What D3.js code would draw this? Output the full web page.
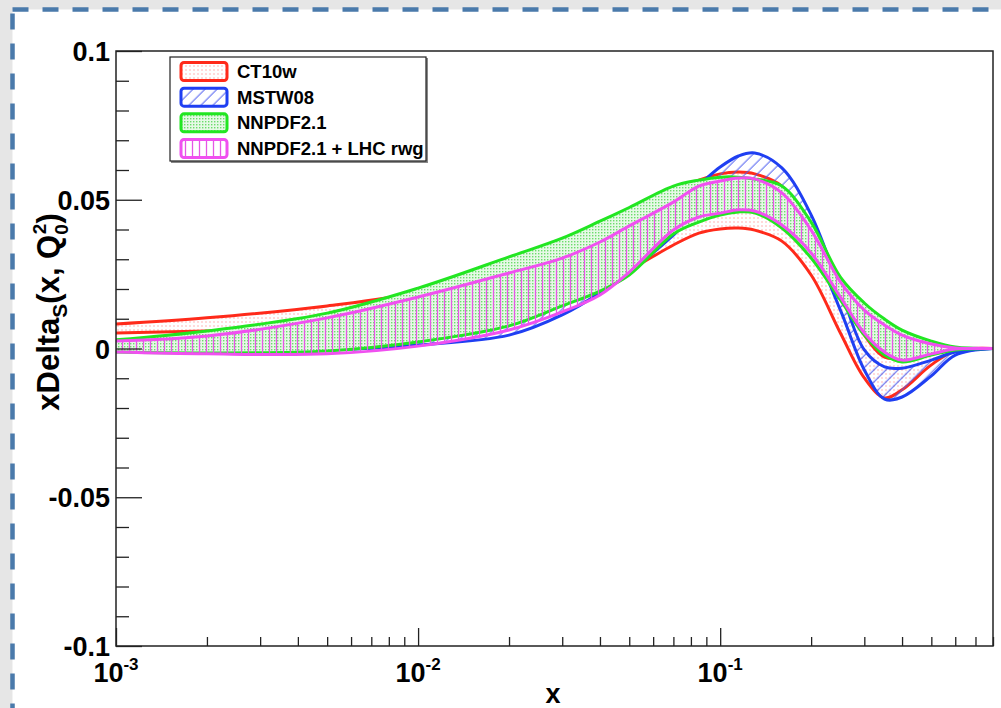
<!DOCTYPE html>
<html lang="en">
<head>
  <meta charset="UTF-8">
  <title>xDelta_S(x, Q0^2)</title>
  <script src="https://d3js.org/d3.v7.min.js"></script>
  <style>
    body {
      margin: 0;
      background-color: #e6e6e6;
    }
    svg { display: block; }
    text {
      font-family: "Liberation Sans", Arial, Helvetica, sans-serif;
      font-weight: bold;
      fill: #000;
    }
  </style>
</head>
<body>
  <div id="chart"></div>

  <script>
    const xGrid = [0.001, 0.002, 0.005, 0.01, 0.02, 0.03, 0.04, 0.05, 0.07, 0.085, 0.1,
                   0.115, 0.13, 0.16, 0.2, 0.25, 0.3, 0.35, 0.4, 0.5, 0.6, 0.8];

    const ct10Up = [0.0082, 0.0103, 0.0143, 0.0190, 0.0284, 0.0345, 0.0402, 0.0450, 0.0526, 0.0566, 0.0587,
                    0.0593, 0.0587, 0.0546, 0.0405, 0.0197, 0.0045, -0.0029, -0.0032, -0.0012, -0.0002, 0];
    const ct10Lo = [0.0052, 0.0059, 0.0069, 0.0082, 0.0119, 0.0163, 0.0220, 0.0264, 0.0348, 0.0388, 0.0402,
                    0.0405, 0.0398, 0.0361, 0.0247, 0.0052, -0.0099, -0.0166, -0.0139, -0.0055, -0.0008, 0];

    const mstwUp = [0.0008, 0.0012, 0.0018, 0.0039, 0.0089, 0.0197, 0.0304, 0.0365, 0.0482, 0.0550, 0.0610,
                    0.0647, 0.0657, 0.0607, 0.0449, 0.0197, -0.0005, -0.0062, -0.0066, -0.0039, -0.0012, 0];
    const mstwLo = [-0.0002, -0.0005, -0.0005, 0.0012, 0.0045, 0.0113, 0.0187, 0.0257, 0.0381, 0.0466, 0.0499,
                    0.0513, 0.0509, 0.0466, 0.0348, 0.0129, -0.0072, -0.0170, -0.0163, -0.0092, -0.0022, 0];

    const nnpdfUp = [0.0029, 0.0059, 0.0119, 0.0203, 0.0308, 0.0371, 0.0428, 0.0474, 0.0546, 0.0566, 0.0576,
                     0.0576, 0.0570, 0.0546, 0.0425, 0.0240, 0.0153, 0.0099, 0.0062, 0.0025, 0.0005, 0];
    const nnpdfLo = [-0.0012, -0.0015, -0.0008, 0.0022, 0.0076, 0.0143, 0.0193, 0.0247, 0.0385, 0.0425, 0.0449,
                     0.0459, 0.0456, 0.0405, 0.0304, 0.0163, 0.0045, -0.0022, -0.0045, -0.0022, -0.0005, 0];

    const rwgUp = [0.0025, 0.0042, 0.0103, 0.0173, 0.0254, 0.0304, 0.0358, 0.0412, 0.0492, 0.0546, 0.0563,
                   0.0573, 0.0570, 0.0523, 0.0398, 0.0224, 0.0129, 0.0079, 0.0045, 0.0015, 0.0002, 0];
    const rwgLo = [-0.0012, -0.0018, -0.0018, 0.0008, 0.0062, 0.0123, 0.0180, 0.0257, 0.0398, 0.0442, 0.0455,
                   0.0466, 0.0462, 0.0415, 0.0321, 0.0173, 0.0052, -0.0012, -0.0039, -0.0018, -0.0002, 0];

    const setNames = ["CT10w", "MSTW08", "NNPDF2.1", "NNPDF2.1 + LHC rwg"];
    const yTickLabels = ["-0.1", "-0.05", "0", "0.05", "0.1"];
    const xTickExps = [-3, -2, -1];

    const width = 1001, height = 708;
    const plot = { left: 116, right: 993, top: 51, bottom: 646 };

    const svg = d3.select("#chart")
      .append("svg")
      .attr("width", width)
      .attr("height", height);

    const defs = svg.append("defs");

    // fill styles of the four bands
    const pDots = defs.append("pattern").attr("id", "fill-ct10")
      .attr("width", 4).attr("height", 4).attr("patternUnits", "userSpaceOnUse");
    pDots.append("rect").attr("x", 1.5).attr("y", 1.5).attr("width", 1).attr("height", 1).attr("fill", "#ff6a6a");

    const pHatch = defs.append("pattern").attr("id", "fill-mstw")
      .attr("width", 8.5).attr("height", 8.5).attr("patternUnits", "userSpaceOnUse")
      .attr("patternTransform", "rotate(45)");
    pHatch.append("line").attr("x1", 4).attr("y1", 0).attr("x2", 4).attr("y2", 8.5)
      .attr("stroke", "#4c5cf0").attr("stroke-width", 1);

    const pGreen = defs.append("pattern").attr("id", "fill-nnpdf")
      .attr("width", 3).attr("height", 3).attr("patternUnits", "userSpaceOnUse");
    pGreen.append("rect").attr("width", 3).attr("height", 3).attr("fill", "#e6f9e6");
    pGreen.append("rect").attr("x", 1).attr("y", 1).attr("width", 1.4).attr("height", 1.4).attr("fill", "#6cdc6c");

    const pVert = defs.append("pattern").attr("id", "fill-rwg")
      .attr("width", 7).attr("height", 7).attr("patternUnits", "userSpaceOnUse");
    pVert.append("line").attr("x1", 3.5).attr("y1", 0).attr("x2", 3.5).attr("y2", 7)
      .attr("stroke", "#e656e6").attr("stroke-width", 1.3);

    defs.append("clipPath").attr("id", "plot-clip")
      .append("rect")
      .attr("x", plot.left).attr("y", plot.top)
      .attr("width", plot.right - plot.left).attr("height", plot.bottom - plot.top);

    // slide background with dashed outline
    svg.append("rect")
      .attr("x", 12.5).attr("y", 9.5)
      .attr("width", 1100).attr("height", 800)
      .attr("fill", "#fff")
      .attr("stroke", "#4a7aab")
      .attr("stroke-width", 4.5)
      .attr("stroke-dasharray", "16 14");

    const x = d3.scaleLog().domain([1e-3, 0.8]).range([plot.left, plot.right]);
    const y = d3.scaleLinear().domain([-0.1, 0.1]).range([plot.bottom, plot.top]);

    const sets = [
      { name: setNames[0], up: ct10Up, lo: ct10Lo, color: "#ff2a1a", fill: "url(#fill-ct10)" },
      { name: setNames[1], up: mstwUp, lo: mstwLo, color: "#1f3ff2", fill: "url(#fill-mstw)" },
      { name: setNames[2], up: nnpdfUp, lo: nnpdfLo, color: "#22e622", fill: "url(#fill-nnpdf)" },
      { name: setNames[3], up: rwgUp, lo: rwgLo, color: "#f050f0", fill: "url(#fill-rwg)" }
    ];

    const curve = d3.curveCatmullRom.alpha(0.5);

    const area = d3.area()
      .x(d => x(d.x))
      .y0(d => y(d.lo))
      .y1(d => y(d.hi))
      .curve(curve);

    const line = d3.line()
      .x(d => x(d[0]))
      .y(d => y(d[1]))
      .curve(curve);

    const bands = svg.append("g").attr("clip-path", "url(#plot-clip)");

    sets.forEach(s => {
      const rows = xGrid.map((xv, i) => ({ x: xv, hi: s.up[i], lo: s.lo[i] }));
      bands.append("path")
        .attr("d", area(rows))
        .attr("fill", s.fill);
      [s.up, s.lo].forEach(vals => {
        bands.append("path")
          .attr("d", line(xGrid.map((xv, i) => [xv, vals[i]])))
          .attr("fill", "none")
          .attr("stroke", s.color)
          .attr("stroke-width", 3);
      });
    });

    // frame
    svg.append("rect")
      .attr("x", plot.left).attr("y", plot.top)
      .attr("width", plot.right - plot.left).attr("height", plot.bottom - plot.top)
      .attr("fill", "none")
      .attr("stroke", "#222")
      .attr("stroke-width", 1.5);

    // x axis ticks (inside, pointing up)
    const xMajor = xTickExps.map(e => Math.pow(10, e));
    const xMinor = [];
    xTickExps.forEach(e => {
      for (let k = 2; k <= 9; k++) {
        const v = k * Math.pow(10, e);
        if (v <= 0.8) xMinor.push(v);
      }
    });

    svg.append("g")
      .attr("transform", `translate(0,${plot.bottom})`)
      .call(d3.axisBottom(x).tickValues(xMajor).tickSize(-18).tickFormat(""))
      .call(g => g.select(".domain").remove())
      .call(g => g.selectAll("line").attr("stroke", "#222").attr("stroke-width", 1.3));

    svg.append("g")
      .attr("transform", `translate(0,${plot.bottom})`)
      .call(d3.axisBottom(x).tickValues(xMinor).tickSize(-9).tickFormat(""))
      .call(g => g.select(".domain").remove())
      .call(g => g.selectAll("line").attr("stroke", "#222").attr("stroke-width", 1.3));

    // y axis ticks (inside, pointing right)
    const yMajor = yTickLabels.map(Number);
    const yMinor = d3.range(-10, 11).map(i => i / 100).filter(v => Math.abs(Math.round(v * 100)) % 5 !== 0);

    svg.append("g")
      .attr("transform", `translate(${plot.left},0)`)
      .call(d3.axisLeft(y).tickValues(yMajor).tickSize(-26).tickFormat(""))
      .call(g => g.select(".domain").remove())
      .call(g => g.selectAll("line").attr("stroke", "#222").attr("stroke-width", 1.3));

    svg.append("g")
      .attr("transform", `translate(${plot.left},0)`)
      .call(d3.axisLeft(y).tickValues(yMinor).tickSize(-13).tickFormat(""))
      .call(g => g.select(".domain").remove())
      .call(g => g.selectAll("line").attr("stroke", "#222").attr("stroke-width", 1.3));

    // y tick labels
    svg.append("g").selectAll("text")
      .data(yTickLabels)
      .join("text")
      .attr("x", plot.left - 6)
      .attr("y", d => y(+d) + 10)
      .attr("text-anchor", "end")
      .style("font-size", "27px")
      .text(d => d);

    // x tick labels: 10^e
    const xl = svg.append("g").selectAll("text")
      .data(xTickExps)
      .join("text")
      .attr("x", d => x(Math.pow(10, d)))
      .attr("y", plot.bottom + 36)
      .attr("text-anchor", "middle")
      .style("font-size", "27px");
    xl.append("tspan").text("10");
    xl.append("tspan")
      .attr("dy", -12)
      .style("font-size", "17px")
      .text(d => String(d));

    // axis titles
    svg.append("text")
      .attr("x", 553)
      .attr("y", 703)
      .attr("text-anchor", "middle")
      .style("font-size", "27px")
      .text("x");

    const yt = svg.append("text")
      .attr("transform", "translate(59,312) rotate(-90)")
      .attr("text-anchor", "middle")
      .style("font-size", "31px");
    yt.append("tspan").text("xDelta");
    yt.append("tspan").attr("dy", 8).style("font-size", "21px").text("S");
    yt.append("tspan").attr("dy", -8).text("(x, Q");
    yt.append("tspan").attr("dy", 9).style("font-size", "19px").text("0");
    yt.append("tspan").attr("dx", -10).attr("dy", -22).style("font-size", "19px").text("2");
    yt.append("tspan").attr("dy", 13).text(")");

    // legend
    const leg = svg.append("g");
    leg.append("rect")
      .attr("x", 171).attr("y", 58)
      .attr("width", 257).attr("height", 105)
      .attr("fill", "#888");
    leg.append("rect")
      .attr("x", 170).attr("y", 57)
      .attr("width", 256).attr("height", 104)
      .attr("fill", "#fff")
      .attr("stroke", "#222")
      .attr("stroke-width", 1.2);

    const entryY = d3.scalePoint().domain(setNames).range([71.5, 148.5]);

    sets.forEach(s => {
      const cy = entryY(s.name);
      leg.append("rect")
        .attr("x", 181).attr("y", cy - 9)
        .attr("width", 46).attr("height", 18)
        .attr("rx", 3)
        .attr("fill", s.fill)
        .attr("stroke", s.color)
        .attr("stroke-width", 3);
      leg.append("text")
        .attr("x", 237)
        .attr("y", cy + 6.5)
        .style("font-size", "18.5px")
        .text(s.name);
    });
  </script>
</body>
</html>
